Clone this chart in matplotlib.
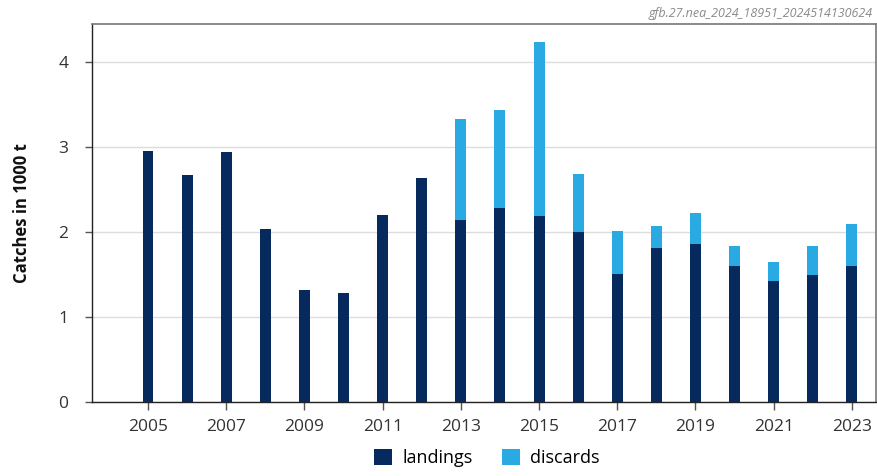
import matplotlib.pyplot as plt

# ICES-style catches chart
years = list(range(2005, 2024))
landings = [2.95, 2.67, 2.94, 2.04, 1.32, 1.29, 2.20, 2.64, 2.14, 2.28,
            2.19, 2.00, 1.51, 1.81, 1.86, 1.60, 1.43, 1.50, 1.60]
discards = [0, 0, 0, 0, 0, 0, 0, 0, 1.19, 1.16,
            2.05, 0.68, 0.50, 0.26, 0.36, 0.24, 0.22, 0.34, 0.50]
x_ticks = list(range(2005, 2024, 2))
y_ticks = [0, 1, 2, 3, 4]
stamp = "gfb.27.nea_2024_18951_2024514130624"

plt.rcParams['font.family'] = ['Open Sans', 'DejaVu Sans']

fig = plt.figure(figsize=(8.77, 4.76), dpi=100)
ax = fig.add_axes([0.105, 0.155, 0.894, 0.795])

ax.bar(years, landings, width=0.28, color='#062a5e', label='landings', zorder=3)
ax.bar(years, discards, width=0.28, bottom=landings, color='#2aaae2',
       label='discards', zorder=3)

ax.set_xlim(2003.57, 2023.62)
ax.set_ylim(0, 4.45)
ax.set_xticks(x_ticks)
ax.set_yticks(y_ticks)
ax.yaxis.grid(True, color='#dddddd', linewidth=1, zorder=0)

for side in ['top', 'right']:
    ax.spines[side].set_color('#777777')
    ax.spines[side].set_linewidth(1.2)
for side in ['left', 'bottom']:
    ax.spines[side].set_color('#222222')
    ax.spines[side].set_linewidth(1.0)

ax.tick_params(axis='both', labelsize=12.5, labelcolor='#333333',
               color='#555555', length=6, width=1)
ax.tick_params(axis='x', pad=6)
ax.tick_params(axis='y', length=5, pad=12)

ax.set_ylabel('Catches in 1000 t', fontsize=12, fontweight='bold',
              color='#111111', labelpad=20)

fig.text(0.995, 0.985, stamp, ha='right', va='top', fontsize=9,
         color='#8a8a8a', style='italic')

fig.legend(loc='lower center', bbox_to_anchor=(0.555, -0.015), ncol=2,
           frameon=False, fontsize=13, handlelength=1.0, handleheight=1.0,
           columnspacing=1.6, handletextpad=0.6)

fig.savefig('out.png', dpi=100)
